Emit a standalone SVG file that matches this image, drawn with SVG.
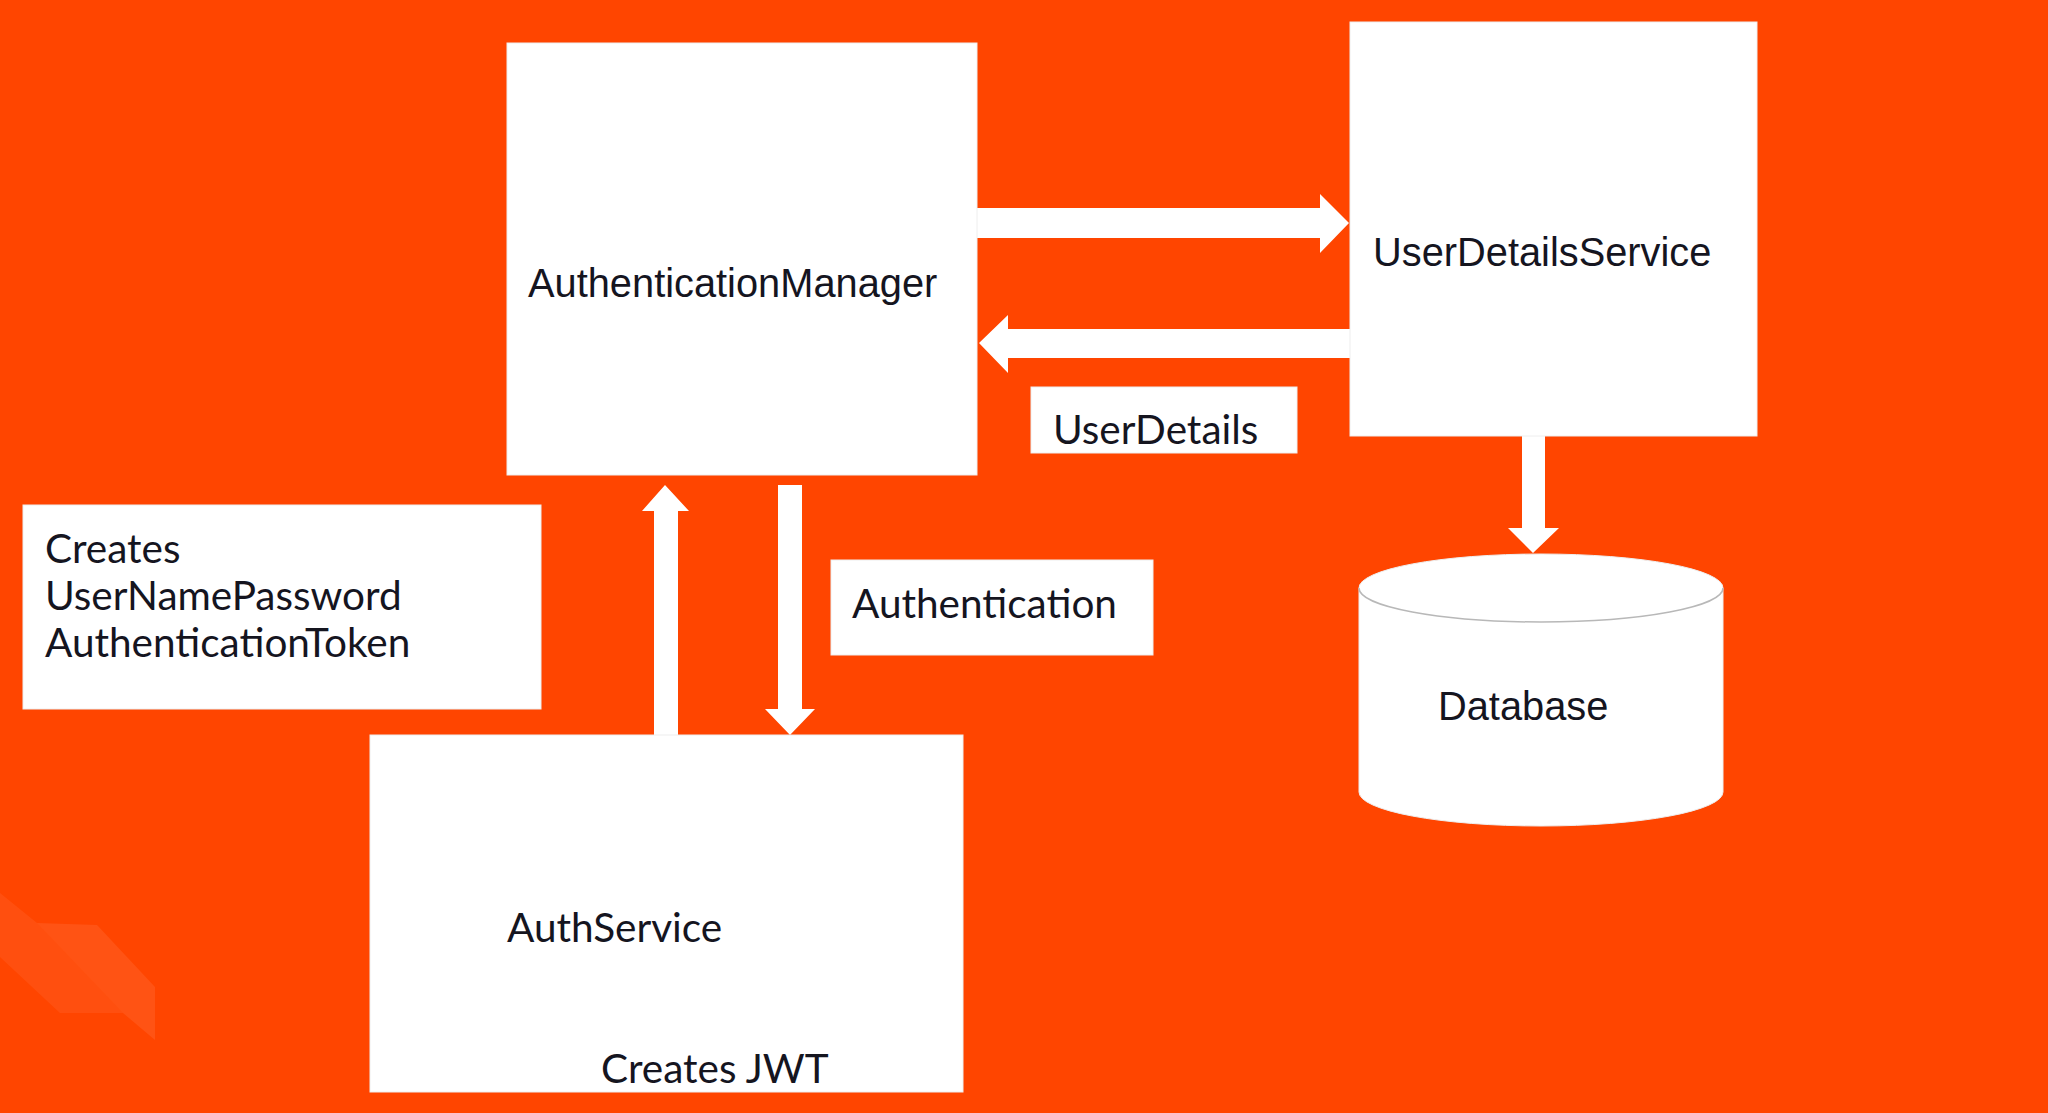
<svg xmlns="http://www.w3.org/2000/svg" width="2048" height="1113" viewBox="0 0 2048 1113">
  <style>
    .box { fill: #ffffff; stroke: #eeeeee; stroke-width: 1; }
    .arrow { fill: #ffffff; }
    .sans { font-family: "Liberation Sans", Arial, sans-serif; font-size: 39.8px; fill: #15151f; }
    .lato { font-family: Lato, "Open Sans", sans-serif; font-size: 40.5px; fill: #15151f; }
    .mark { fill: #ffffff; }
  </style>

  <!-- background -->
  <rect x="0" y="0" width="2048" height="1113" fill="#ff4500"/>

  <!-- faint corner logo -->
  <g id="corner-logo">
    <polygon class="mark" opacity="0.06" points="0,893 37,923 123,1013 60,1013 0,957"/>
    <polygon class="mark" opacity="0.08" points="37,923 97,925 155,987 155,1040 123,1013"/>
  </g>

  <!-- connectors -->
  <g id="connectors">
    <!-- AuthenticationManager -> UserDetailsService -->
    <polygon class="arrow" points="977,208 1320,208 1320,194 1349,223 1320,253 1320,238 977,238"/>
    <!-- UserDetailsService -> AuthenticationManager -->
    <polygon class="arrow" points="1351,329 1008,329 1008,315 979,343 1008,373 1008,358 1351,358"/>
    <!-- AuthService -> AuthenticationManager -->
    <polygon class="arrow" points="654,735 654,511 642,511 665,485 689,511 678,511 678,735"/>
    <!-- AuthenticationManager -> AuthService -->
    <polygon class="arrow" points="778,485 802,485 802,709 815,709 790,735 765,709 778,709"/>
    <!-- UserDetailsService -> Database -->
    <polygon class="arrow" points="1522,436 1545,436 1545,528 1559,528 1533,553 1508,528 1522,528"/>
  </g>

  <g id="authentication-manager">
    <rect class="box" x="507" y="43" width="470" height="432"/>
    <text class="sans" x="528" y="297">AuthenticationManager</text>
  </g>

  <g id="user-details-service">
    <rect class="box" x="1350" y="22" width="407" height="414"/>
    <text class="sans" x="1373" y="266">UserDetailsService</text>
  </g>

  <g id="user-details-label">
    <rect class="box" x="1031" y="387" width="266" height="66"/>
    <text class="lato" x="1053" y="444">UserDetails</text>
  </g>

  <g id="authentication-label">
    <rect class="box" x="831" y="560" width="322" height="95"/>
    <text class="lato" x="852" y="618">Authentication</text>
  </g>

  <g id="token-note">
    <rect class="box" x="23" y="505" width="518" height="204"/>
    <text class="lato" x="45">
      <tspan x="45" y="563">Creates</tspan>
      <tspan x="45" y="610">UserNamePassword</tspan>
      <tspan x="45" y="657">AuthenticationToken</tspan>
    </text>
  </g>

  <g id="auth-service">
    <rect class="box" x="370" y="735" width="593" height="357"/>
    <text class="lato" x="507" y="942">AuthService</text>
    <text class="lato" x="601" y="1083">Creates JWT</text>
  </g>

  <g id="database">
    <path class="box" d="M1359,588 A182,34 0 0 1 1723,588 L1723,792 A182,34 0 0 1 1359,792 Z" stroke="none"/>
    <path d="M1359,588 A182,34 0 0 0 1723,588" fill="none" stroke="#b8b8b8" stroke-width="1.5"/>
    <text class="sans" x="1438" y="720">Database</text>
  </g>
</svg>
